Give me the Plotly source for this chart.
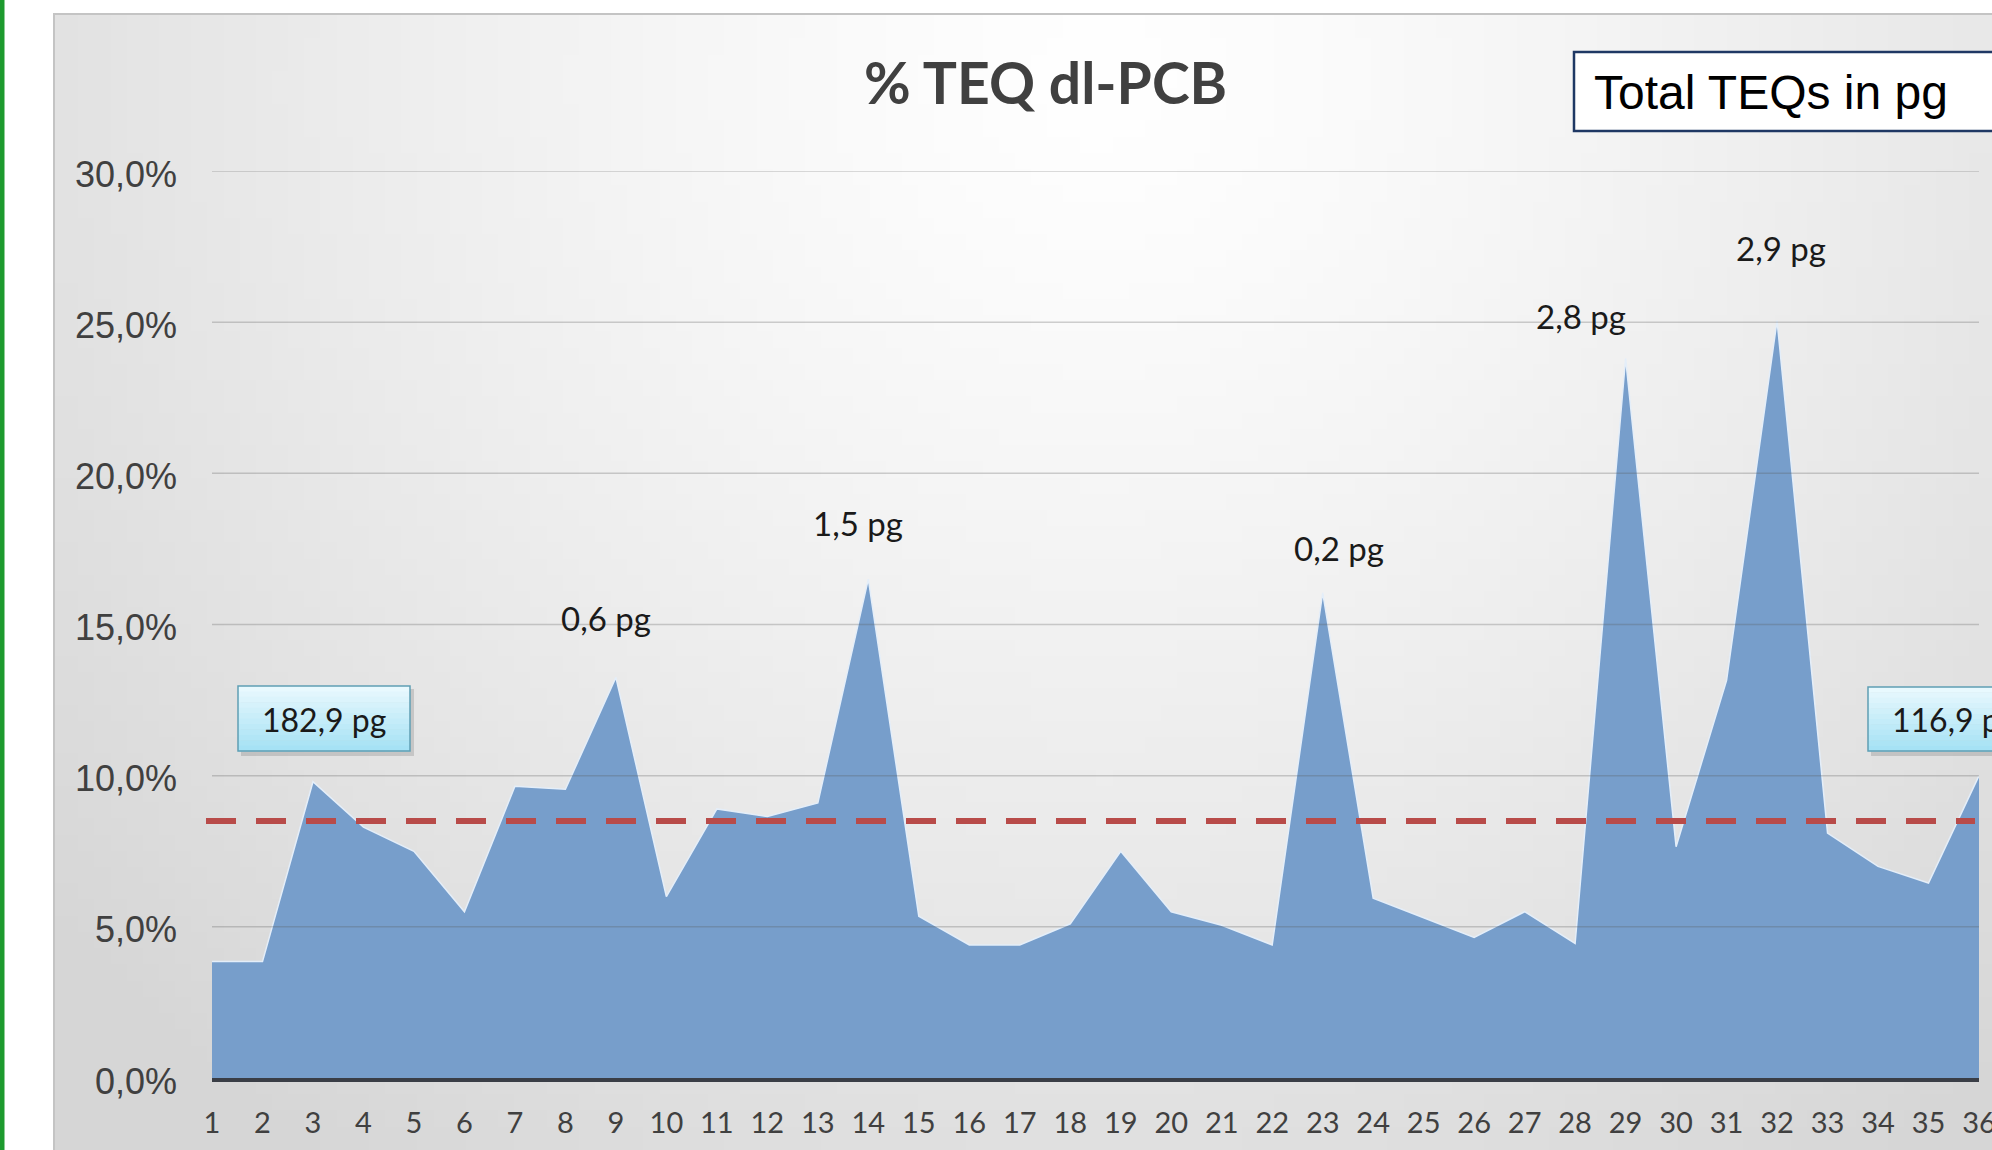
import base64
import math
import struct
import zlib

import plotly.graph_objects as go

# ---------------- data ----------------
SAMPLES = list(range(1, 37))
X_LABELS = [str(i) for i in SAMPLES]
TEQ_PCT = [3.85, 3.85, 9.8, 8.3, 7.5, 5.5, 9.65, 9.55, 13.25, 6.0,
           8.9, 8.65, 9.1, 16.5, 5.35, 4.4, 4.4, 5.1, 7.5, 5.5,
           5.05, 4.4, 16.05, 5.95, 5.3, 4.65, 5.5, 4.45, 23.8, 7.65,
           13.15, 25.05, 8.1, 7.0, 6.45, 10.0]
MEAN_PCT = 8.5
Y_TICKS = [0, 5, 10, 15, 20, 25, 30]
Y_TICK_TEXT = ["0,0%", "5,0%", "10,0%", "15,0%", "20,0%", "25,0%", "30,0%"]
PEAK_SAMPLES = [9, 14, 23, 29, 32]
PEAK_LABELS = ["0,6 pg", "1,5 pg", "0,2 pg", "2,8 pg", "2,9 pg"]
TOTAL_LABELS = ["182,9 pg", "116,9 pg"]
TITLE = "% TEQ dl-PCB"
BOX_TEXT = "Total TEQs in pg"

# ---------------- layout geometry (pixels) ----------------
W, H = 1992, 1150
L, R, T, B = 212, 13, 171, 72
PW, PH = W - L - R, H - T - B


def px(xp):
    return (xp - L) / PW


def py(yp):
    return (H - B - yp) / PH


# ---------------- background gradient image ----------------
def make_png(w, h, rows):
    raw = b"".join(b"\x00" + bytes(r) for r in rows)

    def chunk(t, d):
        c = struct.pack(">I", len(d)) + t + d
        return c + struct.pack(">I", zlib.crc32(t + d) & 0xFFFFFFFF)

    return (b"\x89PNG\r\n\x1a\n"
            + chunk(b"IHDR", struct.pack(">IIBBBBB", w, h, 8, 0, 0, 0, 0))
            + chunk(b"IDAT", zlib.compress(raw))
            + chunk(b"IEND", b""))


GX0, GY0 = 54, 14
gw, gh = 120, 70
rows = []
for j in range(gh):
    row = []
    yy = GY0 + (j + 0.5) * (H - GY0) / gh
    for i in range(gw):
        xx = GX0 + (i + 0.5) * (W - GX0) / gw
        d = math.hypot((xx - 1100) / 1200, (yy - 80) / 1150)
        v = 255 - 34 * d ** 1.3
        row.append(int(max(214, min(255, v))))
    rows.append(row)
bg_uri = "data:image/png;base64," + base64.b64encode(make_png(gw, gh, rows)).decode()

fig = go.Figure()

fig.add_trace(go.Scatter(
    x=SAMPLES, y=TEQ_PCT, mode="lines", fill="tozeroy",
    fillcolor="#779ecb", line=dict(color="#e4eef9", width=1.5),
    hoverinfo="skip", showlegend=False,
))

shapes = []
# green strip at the very left
shapes.append(dict(type="rect", xref="paper", yref="paper",
                   x0=px(-5), x1=px(4.5), y0=py(-10), y1=py(H + 10),
                   fillcolor="#1d9a2e", line=dict(width=0), layer="below"))
# chart area border
shapes.append(dict(type="rect", xref="paper", yref="paper",
                   x0=px(GX0), x1=px(W + 20), y0=py(GY0), y1=py(H + 20),
                   fillcolor="rgba(0,0,0,0)", line=dict(color="#c4c4c4", width=2),
                   layer="below"))
# gridlines drawn above the area
for v in Y_TICKS[1:]:
    shapes.append(dict(type="line", xref="paper", yref="y",
                       x0=0, x1=1, y0=v, y1=v,
                       line=dict(color="rgba(90,90,90,0.28)", width=1.5)))
# mean dashed line
shapes.append(dict(type="line", xref="paper", yref="y",
                   x0=px(206), x1=px(1975), y0=MEAN_PCT, y1=MEAN_PCT,
                   line=dict(color="#b84b49", width=6, dash="30px,20px")))


def gradient_box(x0, x1, y0, y1):
    out = []
    # shadow
    out.append(dict(type="rect", xref="paper", yref="paper",
                    x0=px(x0 + 3), x1=px(x1 + 4), y0=py(y1 + 5), y1=py(y0 + 3),
                    fillcolor="rgba(60,60,60,0.18)", line=dict(width=0)))
    n = 12
    top = (232, 249, 254)
    bot = (166, 226, 245)
    for k in range(n):
        t = k / (n - 1)
        c = tuple(int(top[m] + (bot[m] - top[m]) * t) for m in range(3))
        ya = y0 + (y1 - y0) * k / n
        yb = y0 + (y1 - y0) * (k + 1) / n
        out.append(dict(type="rect", xref="paper", yref="paper",
                        x0=px(x0), x1=px(x1), y0=py(yb + 0.5), y1=py(ya),
                        fillcolor="rgb(%d,%d,%d)" % c, line=dict(width=0)))
    out.append(dict(type="rect", xref="paper", yref="paper",
                    x0=px(x0), x1=px(x1), y0=py(y1), y1=py(y0),
                    fillcolor="rgba(0,0,0,0)", line=dict(color="#5f9fb4", width=1.5)))
    return out


shapes += gradient_box(238, 410, 686, 751)
shapes += gradient_box(1868, 2060, 687, 751)

# "Total TEQs in pg" box
shapes.append(dict(type="rect", xref="paper", yref="paper",
                   x0=px(1574), x1=px(2040), y0=py(131), y1=py(52),
                   fillcolor="white", line=dict(color="#1f3864", width=2.5)))

annotations = []
annotations.append(dict(text=TITLE, xref="paper", yref="paper",
                        x=px(1045), y=py(82), xanchor="center", yanchor="middle",
                        showarrow=False,
                        font=dict(family="Lato", size=57, color="#404040", weight="bold")))
annotations.append(dict(text=BOX_TEXT, xref="paper", yref="paper",
                        x=px(1592), y=py(92), xanchor="left", yanchor="middle",
                        showarrow=False,
                        font=dict(family="Liberation Sans, Arial", size=48, color="#000000")))

PEAK_DX = [-0.2, -0.21, 0.32, -0.89, 0.08]
PEAK_Y = [15.21, 18.36, 17.53, 25.2, 27.45]
for s, lab, dx, yv in zip(PEAK_SAMPLES, PEAK_LABELS, PEAK_DX, PEAK_Y):
    annotations.append(dict(text=lab, xref="x", yref="y", x=s + dx, y=yv,
                            xanchor="center", yanchor="middle", showarrow=False,
                            font=dict(family="Lato", size=33, color="#1a1a1a")))

annotations.append(dict(text=TOTAL_LABELS[0], xref="paper", yref="paper",
                        x=px(324), y=py(719), xanchor="center", yanchor="middle",
                        showarrow=False,
                        font=dict(family="Lato", size=32, color="#1a1a1a")))
annotations.append(dict(text=TOTAL_LABELS[1], xref="paper", yref="paper",
                        x=px(1890), y=py(719), xanchor="left", yanchor="middle",
                        showarrow=False,
                        font=dict(family="Lato", size=32, color="#1a1a1a")))

fig.update_layout(
    width=W, height=H,
    margin=dict(l=L, r=R, t=T, b=B, pad=0, autoexpand=False),
    paper_bgcolor="white",
    plot_bgcolor="rgba(0,0,0,0)",
    showlegend=False,
    shapes=shapes,
    annotations=annotations,
    images=[dict(source=bg_uri, xref="paper", yref="paper",
                 x=px(GX0), y=py(GY0), sizex=(W - GX0) / PW, sizey=(H - GY0) / PH,
                 xanchor="left", yanchor="top", sizing="stretch", layer="below")],
    xaxis=dict(range=[1, 36], tickvals=SAMPLES, ticktext=X_LABELS,
               showgrid=False, zeroline=False, showline=True,
               linecolor="#3a3e46", linewidth=4, ticks="",
               ticklabelstandoff=16, ticklabeloverflow="allow", automargin=False,
               tickfont=dict(family="Lato", size=29, color="#404040"),
               layer="above traces"),
    yaxis=dict(range=[0, 30], tickvals=Y_TICKS, ticktext=Y_TICK_TEXT,
               showgrid=False, zeroline=False, showline=False, ticks="",
               ticklabelstandoff=34, ticklabelshift=3, automargin=False,
               tickfont=dict(family="Liberation Sans, Arial", size=36, color="#404040")),
)

fig.write_html(
    "out.html",
    config={"displayModeBar": False},
    post_script="document.body.style.margin='0px';document.body.style.overflow='hidden';",
)
